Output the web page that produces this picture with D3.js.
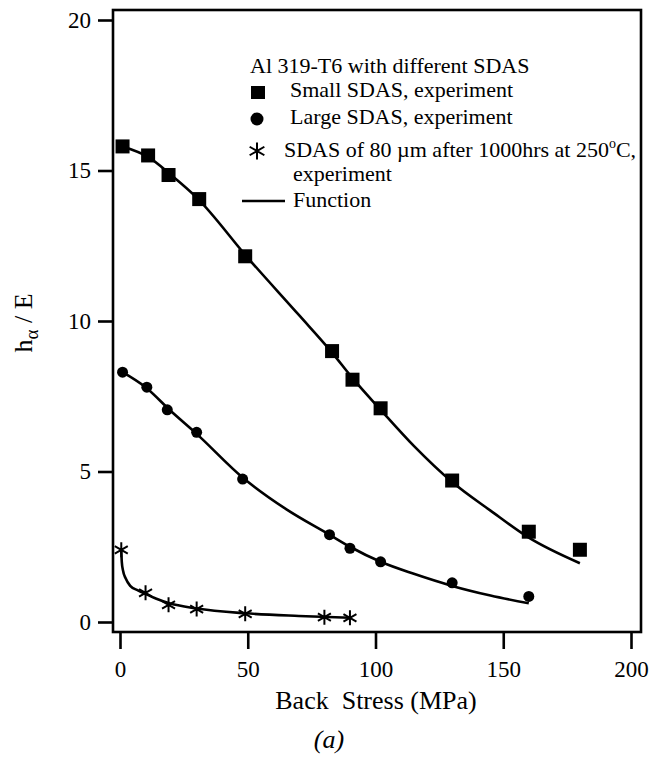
<!DOCTYPE html>
<html>
<head>
<meta charset="utf-8">
<script src="https://cdn.jsdelivr.net/npm/d3@7"></script>
<style>
  body { margin: 0; background: #fff; }
  text { font-family: "Liberation Serif", "Times New Roman", "DejaVu Serif", serif; fill: #000; }
</style>
</head>
<body>
<script>
// experiment points
const smallX = [1, 11, 19, 31, 49, 83, 91, 102, 130, 160, 180];
const smallY = [15.8, 15.5, 14.85, 14.05, 12.15, 9.0, 8.05, 7.1, 4.7, 3.0, 2.4];
const largeX = [1, 10.5, 18.5, 30, 48, 82, 90, 102, 130, 160];
const largeY = [8.3, 7.8, 7.05, 6.3, 4.75, 2.9, 2.45, 2.0, 1.3, 0.85];
const agedX = [0.5, 10, 19, 30, 49, 80, 90];
const agedY = [2.4, 0.97, 0.57, 0.43, 0.27, 0.16, 0.14];

// "Function" curves
const smallFitX = [1, 11, 20, 30, 50, 70, 83, 91, 102, 115, 130, 145, 160, 180];
const smallFitY = [15.8, 15.45, 14.85, 14.1, 12.1, 10.2, 8.95, 8.1, 7.05, 5.85, 4.65, 3.7, 2.8, 1.95];
const largeFitX = [1, 10, 20, 30, 48, 65, 82, 90, 102, 115, 130, 145, 160];
const largeFitY = [8.3, 7.8, 7.0, 6.25, 4.8, 3.75, 2.9, 2.5, 2.0, 1.6, 1.2, 0.88, 0.62];
const agedFitX = [0.5, 0.7, 1.2, 2.2, 4, 7, 10, 14, 19, 30, 49, 70, 90];
const agedFitY = [2.4, 2.0, 1.7, 1.45, 1.2, 1.05, 0.93, 0.78, 0.63, 0.45, 0.29, 0.2, 0.14];

const xMajor = [0, 50, 100, 150, 200];
const yMajor = [0, 5, 10, 15, 20];

const w = 649;
const h = 757;

const svg = d3.select("body").append("svg").attr("width", w).attr("height", h);
svg.append("rect").attr("width", w).attr("height", h).attr("fill", "#fff");

const x = d3.scaleLinear().domain([0, 200]).range([120, 631]);
const y = d3.scaleLinear().domain([0, 20]).range([622, 20]);

// frame
const frameL = 113, frameR = 641, frameT = 10, frameB = 632;
svg.append("rect")
  .attr("x", frameL).attr("y", frameT)
  .attr("width", frameR - frameL).attr("height", frameB - frameT)
  .attr("fill", "none").attr("stroke", "#000").attr("stroke-width", 2.6);

// x axis ticks (pointing down from the frame bottom)
const gx = svg.append("g").attr("transform", `translate(0,${frameB})`);
gx.call(d3.axisBottom(x).tickValues(d3.range(0, 201, 10)).tickSize(9).tickFormat(""));
gx.call(d3.axisBottom(x).tickValues(xMajor).tickSize(17).tickPadding(12).tickFormat(d3.format("d")));
gx.selectAll(".domain").remove();
gx.selectAll("line").attr("stroke", "#000").attr("stroke-width", 2.6);
gx.selectAll("text").attr("font-size", 23).attr("font-family", null);

// y axis ticks (pointing left from the frame left)
const gy = svg.append("g").attr("transform", `translate(${frameL},0)`);
gy.call(d3.axisLeft(y).tickValues(d3.range(0, 21, 1)).tickSize(7).tickFormat(""));
gy.call(d3.axisLeft(y).tickValues(yMajor).tickSize(15).tickPadding(7).tickFormat(d3.format("d")));
gy.selectAll(".domain").remove();
gy.selectAll("line").attr("stroke", "#000").attr("stroke-width", 2.6);
gy.selectAll("text").attr("font-size", 23).attr("font-family", null);
svg.selectAll("g").attr("font-family", null);

// fitted curves
const line = d3.line()
  .x((d) => x(d[0]))
  .y((d) => y(d[1]))
  .curve(d3.curveMonotoneX);

const fits = [
  d3.zip(smallFitX, smallFitY),
  d3.zip(largeFitX, largeFitY),
  d3.zip(agedFitX, agedFitY),
];
svg.selectAll(".fit").data(fits).enter().append("path")
  .attr("class", "fit")
  .attr("d", line)
  .attr("fill", "none")
  .attr("stroke", "#000")
  .attr("stroke-width", 2.6);

// markers
const starPath = (r) => {
  let p = "";
  [90, 30, 150].forEach((a) => {
    const dx = r * Math.cos((a * Math.PI) / 180);
    const dy = r * Math.sin((a * Math.PI) / 180);
    p += `M${-dx},${-dy}L${dx},${dy}`;
  });
  return p;
};

svg.selectAll(".sq").data(d3.zip(smallX, smallY)).enter().append("rect")
  .attr("class", "sq")
  .attr("x", (d) => x(d[0]) - 7)
  .attr("y", (d) => y(d[1]) - 7)
  .attr("width", 14).attr("height", 14)
  .attr("fill", "#000");

svg.selectAll(".ci").data(d3.zip(largeX, largeY)).enter().append("circle")
  .attr("class", "ci")
  .attr("cx", (d) => x(d[0]))
  .attr("cy", (d) => y(d[1]))
  .attr("r", 5.5)
  .attr("fill", "#000");

svg.selectAll(".st").data(d3.zip(agedX, agedY)).enter().append("path")
  .attr("class", "st")
  .attr("transform", (d) => `translate(${x(d[0])},${y(d[1])})`)
  .attr("d", starPath(7.5))
  .attr("stroke", "#000").attr("stroke-width", 2);

// legend
const lg = svg.append("g");
lg.append("text").attr("x", 250).attr("y", 73).attr("font-size", 22).text("Al 319-T6 with different SDAS");
lg.append("rect").attr("x", 251).attr("y", 86).attr("width", 14).attr("height", 13).attr("fill", "#000");
lg.append("text").attr("x", 290).attr("y", 97).attr("font-size", 22).text("Small SDAS, experiment");
lg.append("circle").attr("cx", 257).attr("cy", 119).attr("r", 6.5).attr("fill", "#000");
lg.append("text").attr("x", 290).attr("y", 124).attr("font-size", 22).text("Large SDAS, experiment");
lg.append("path").attr("transform", "translate(257,151)").attr("d", starPath(8.5))
  .attr("stroke", "#000").attr("stroke-width", 2);
const t3 = lg.append("text").attr("x", 284).attr("y", 157).attr("font-size", 22);
t3.append("tspan").text("SDAS of 80 \u00b5m after 1000hrs at 250");
t3.append("tspan").attr("font-size", 14).attr("dy", -9).text("o");
t3.append("tspan").attr("dy", 9).text("C,");
lg.append("text").attr("x", 293).attr("y", 181).attr("font-size", 22).text("experiment");
lg.append("line").attr("x1", 242).attr("x2", 285).attr("y1", 201).attr("y2", 201)
  .attr("stroke", "#000").attr("stroke-width", 2.6);
lg.append("text").attr("x", 293).attr("y", 207).attr("font-size", 22).text("Function");

// axis titles
svg.append("text")
  .attr("x", 376).attr("y", 709)
  .attr("text-anchor", "middle")
  .attr("font-size", 26)
  .style("white-space", "pre")
  .text("Back  Stress (MPa)");

const yt = svg.append("text")
  .attr("transform", "translate(32,323) rotate(-90)")
  .attr("text-anchor", "middle")
  .attr("font-size", 26);
yt.append("tspan").text("h");
yt.append("tspan").attr("font-size", 19).attr("dy", 6).text("\u03b1");
yt.append("tspan").attr("dy", -6).text(" / E");

svg.append("text")
  .attr("x", 329).attr("y", 748)
  .attr("text-anchor", "middle")
  .attr("font-size", 26)
  .attr("font-style", "italic")
  .text("(a)");
</script>
</body>
</html>
